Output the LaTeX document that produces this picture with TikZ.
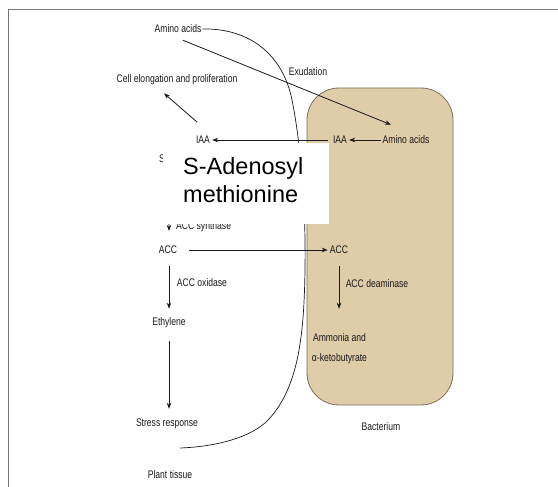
\documentclass[tikz,border=0pt]{standalone}
\usepackage{fontspec}
\setmainfont{Liberation Sans}
\newfontfamily\narrowf[FakeStretch=0.78]{Liberation Sans}
\usetikzlibrary{arrows.meta,calc}
\definecolor{bact}{RGB}{223,204,168}
\definecolor{bactedge}{RGB}{125,110,90}
\definecolor{ink}{RGB}{25,25,25}
\definecolor{framec}{RGB}{120,120,120}
\begin{document}
\begin{tikzpicture}[x=1pt,y=-1pt,
  lbl/.style={font=\narrowf\fontsize{11}{13}\selectfont, text=ink, inner sep=1pt},
  arr/.style={draw=ink, line width=0.8pt, -{Stealth[length=6pt,width=4.5pt]}},
  big/.style={font=\fontsize{23.5}{28}\selectfont, text=black, inner sep=0pt, anchor=base west}
  ]
\useasboundingbox (0,0) rectangle (558,487);
\draw[framec, line width=1pt] (558,10) -- (8,10) -- (8,487);
% bacterium
\path[fill=bact, draw=bactedge, line width=0.8pt, rounded corners=32pt] (307,88) rectangle (453,405);
% labels
\node[lbl] (aa1) at (178,29) {Amino acids};
\node[lbl] (exud) at (308,72) {Exudation};
\node[lbl] (cell) at (177,80) {Cell elongation and proliferation};
\node[lbl] (iaa1) at (203,140) {IAA};
\node[lbl] (iaa2) at (340,140) {IAA};
\node[lbl] (aa2) at (406,140) {Amino acids};
\node[lbl, anchor=west] (sam) at (158,159) {S};
\node[lbl, anchor=west] (accs) at (175,227) {ACC synthase};
\node[lbl] (acc1) at (168,250) {ACC};
\node[lbl] (acc2) at (339,250) {ACC};
\node[lbl] (accox) at (202,283) {ACC oxidase};
\node[lbl] (eth) at (169,323) {Ethylene};
\node[lbl] (stress) at (167,424) {Stress response};
\node[lbl] (plant) at (170,475) {Plant tissue};
\node[lbl] (deam) at (377,284) {ACC deaminase};
\node[lbl] (amm1) at (339.5,338) {Ammonia and};
\node[lbl] (amm2) at (339.5,359) {α-ketobutyrate};
\node[lbl] (bac) at (381,427) {Bacterium};
% plant tissue boundary
\draw[ink, line width=0.7pt] (aa1.east) .. controls (250,28) and (283,55) .. (292,100)
  .. controls (300,140) and (306,200) .. (305,270)
  .. controls (304,330) and (300,390) .. (265,423)
  .. controls (245,440) and (210,447) .. (180,448);
% arrows
\draw[arr] ($(aa1.south)+(5,6)$) -- ($(aa2.north)+(-15,-10)$);
\draw[arr, shorten >=1pt] (aa2.west) -- (iaa2.east);
\draw[arr, shorten <=4pt, shorten >=1pt] (iaa2.west) -- (iaa1.east);
\draw[arr] ($(iaa1.north)+(-6,-13)$) -- ($(cell.south)+(-13,7)$);
\draw[arr] (acc1.north |- sam.south) -- ($(acc1.north)+(1,-14)$);
\draw[arr, shorten <=11pt, shorten >=1pt] (acc1.east) -- (acc2.west);
\draw[arr, shorten <=11pt, shorten >=8pt] ($(acc1.south)+(1,0)$) -- (eth.north);
\draw[arr, shorten <=12pt, shorten >=9pt] (eth.south) -- (eth.south |- stress.north);
\draw[arr, shorten <=11pt, shorten >=24pt] (acc2.south) -- (acc2.south |- amm1.north);
% overlay box
\node[fill=white, inner sep=0pt, anchor=north west, minimum width=166pt, minimum height=81pt] (samb) at (163,143) {};
\node[big] (t1) at (183,175) {S-Adenosyl};
\node[big] (t2) at (183,203) {methionine};
\end{tikzpicture}
\end{document}
